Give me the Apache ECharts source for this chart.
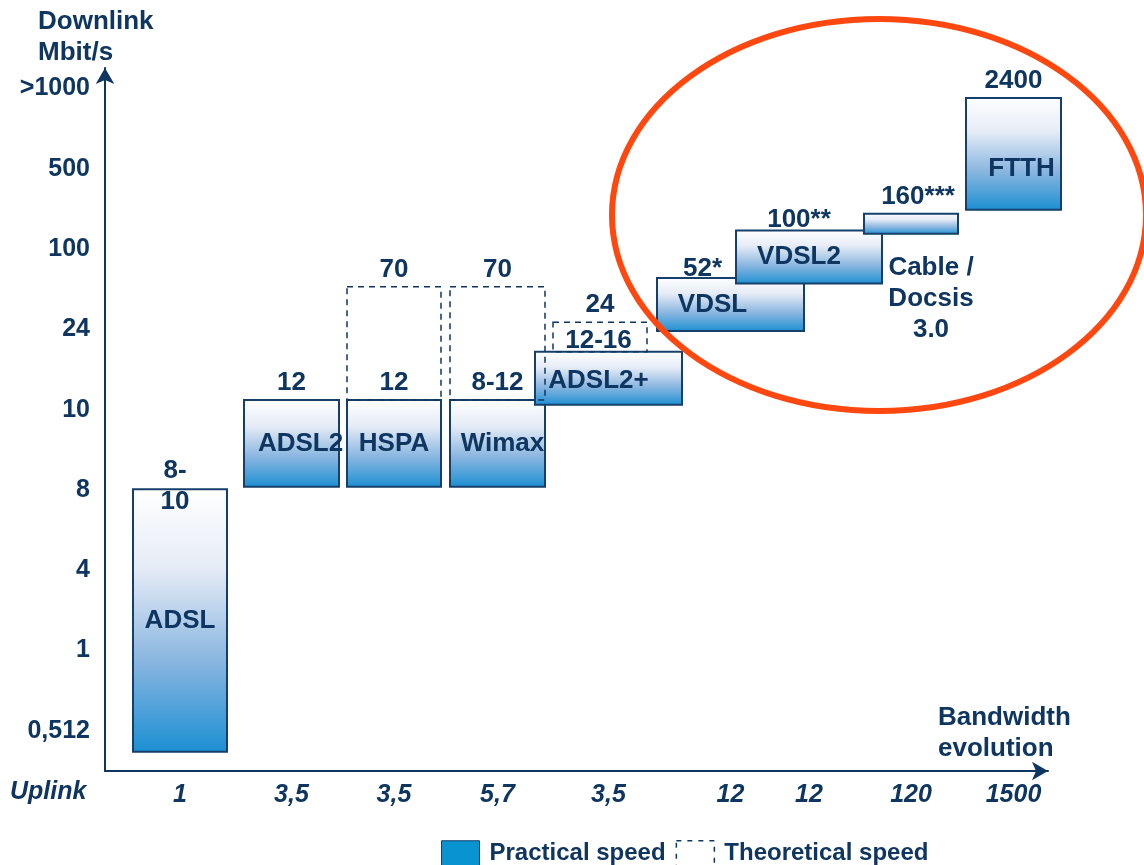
<!DOCTYPE html>
<html>
<head>
<meta charset="utf-8">
<script src="https://cdn.jsdelivr.net/npm/echarts@6/dist/echarts.min.js"></script>
<style>
  html, body { margin: 0; padding: 0; background: #fff; }
  #chart { width: 1144px; height: 865px; }
</style>
</head>
<body>
<div id="chart"></div>
<script>
// downlink levels, drawn as an ordinal scale (index = axis value)
var levelLabels = ['0,512', '1', '4', '8', '10', '24', '100', '500', '>1000'];

// practical speed boxes (x in slots along the evolution axis, y in level index)
var techNames    = ['ADSL', 'ADSL2', 'HSPA', 'Wimax', 'ADSL2+', 'VDSL', 'VDSL2', 'Cable /\nDocsis\n3.0', 'FTTH'];
var downlinkText = ['8-\n10', '12', '12', '8-12', '12-16', '52*', '100**', '160***', '2400'];
var uplinkText   = ['1', '3,5', '3,5', '5,7', '3,5', '12', '12', '120', '1500'];
var boxStart     = [0.28, 1.39, 2.42, 3.45, 4.30, 5.52, 6.31, 7.59, 8.61];
var boxEnd       = [1.22, 2.34, 3.36, 4.40, 5.77, 6.99, 7.77, 8.53, 9.56];
var practicalLow  = [-0.26, 3.04, 3.04, 3.04, 4.06, 4.98, 5.57, 6.19, 6.49];
var practicalHigh = [3.01, 4.12, 4.12, 4.12, 4.72, 5.64, 6.23, 6.44, 7.88];

// theoretical speed (dashed boxes)
var theoText  = ['70', '70', '24'];
var theoStart = [2.42, 3.45, 4.48];
var theoEnd   = [3.36, 4.40, 5.42];
var theoLow   = [4.12, 4.12, 4.72];
var theoHigh  = [5.53, 5.53, 5.09];

var navy = '#0f3660';
var font = 'bold 26px "Liberation Sans", Arial, sans-serif';

// small hand nudges for the text placement
var tweak = {
    'ADSL':   { vdx: -5, vdy: 14 },
    'ADSL2':  { ndx: 9 },
    'Wimax':  { ndx: 5 },
    'ADSL2+': { vdx: -10, vdy: 6, ndx: -10, ndy: 2 },
    'VDSL':   { vdx: -28, vdy: 8, ndx: -18 },
    'VDSL2':  { vdx: -10, vdy: 6, ndx: -10 },
    'Cable /\nDocsis\n3.0': { vdx: 7, ndx: 20, ndy: 75 },
    'FTTH':   { ndx: 8, ndy: 15 }
};

var practicalData = techNames.map(function (n, i) {
    return [boxStart[i], boxEnd[i], practicalLow[i], practicalHigh[i]];
});
var theoData = theoText.map(function (t, i) {
    return [theoStart[i], theoEnd[i], theoLow[i], theoHigh[i]];
});
var boxCenters = boxStart.map(function (s, i) { return (s + boxEnd[i]) / 2; });

function boxGradient() {
    return new echarts.graphic.LinearGradient(0, 0, 0, 1, [
        { offset: 0, color: '#ffffff' },
        { offset: 0.3, color: '#e6ecf6' },
        { offset: 0.65, color: '#8ab6e0' },
        { offset: 1, color: '#1a8fd2' }
    ]);
}

function renderPractical(params, api) {
    var i = params.dataIndex;
    var p0 = api.coord([api.value(0), api.value(3)]);
    var p1 = api.coord([api.value(1), api.value(2)]);
    var t = tweak[techNames[i]] || {};
    var cx = (p0[0] + p1[0]) / 2;
    var cy = (p0[1] + p1[1]) / 2;
    return {
        type: 'group',
        children: [{
            type: 'rect',
            shape: { x: p0[0], y: p0[1], width: p1[0] - p0[0], height: p1[1] - p0[1] },
            style: { fill: boxGradient(), stroke: '#16406b', lineWidth: 2 }
        }, {
            type: 'text',
            style: {
                text: techNames[i], x: cx + (t.ndx || 0), y: cy + (t.ndy || 0),
                align: 'center', verticalAlign: 'middle', font: font, fill: navy, lineHeight: 31
            }
        }, {
            type: 'text',
            style: {
                text: downlinkText[i], x: cx + (t.vdx || 0), y: p0[1] - 17 + (t.vdy || 0),
                align: 'center', verticalAlign: 'middle', font: font, fill: navy, lineHeight: 31
            }
        }]
    };
}

function renderTheo(params, api) {
    var i = params.dataIndex;
    var p0 = api.coord([api.value(0), api.value(3)]);
    var p1 = api.coord([api.value(1), api.value(2)]);
    return {
        type: 'group',
        children: [{
            type: 'rect',
            shape: { x: p0[0], y: p0[1], width: p1[0] - p0[0], height: p1[1] - p0[1] },
            style: { fill: null, stroke: navy, lineWidth: 1.5, lineDash: [6, 5] }
        }, {
            type: 'text',
            style: {
                text: theoText[i], x: (p0[0] + p1[0]) / 2, y: p0[1] - 17,
                align: 'center', verticalAlign: 'middle', font: font, fill: navy
            }
        }]
    };
}

var myChart = echarts.init(document.getElementById('chart'));
var option = {
    animation: false,
    grid: { left: 105, right: 96, top: 68, bottom: 94 },
    xAxis: {
        type: 'value',
        min: 0,
        max: 9.43,
        splitLine: { show: false },
        axisTick: { show: false },
        axisLine: {
            show: true,
            onZero: false,
            symbol: ['none', 'arrow'],
            symbolSize: [14, 16],
            lineStyle: { color: navy, width: 2 }
        },
        axisLabel: {
            customValues: boxCenters,
            margin: 12,
            color: navy,
            fontStyle: 'italic',
            fontWeight: 'bold',
            fontSize: 25,
            fontFamily: 'Liberation Sans',
            formatter: function (v) {
                return uplinkText[boxCenters.indexOf(v)];
            }
        }
    },
    yAxis: {
        type: 'value',
        min: -0.5,
        max: 8.255,
        splitLine: { show: false },
        axisTick: { show: false },
        axisLine: {
            show: true,
            onZero: false,
            symbol: ['none', 'arrow'],
            symbolSize: [14, 16],
            lineStyle: { color: navy, width: 2 }
        },
        axisLabel: {
            customValues: [0, 1, 2, 3, 4, 5, 6, 7, 8],
            margin: 15,
            color: navy,
            fontWeight: 'bold',
            fontSize: 25,
            fontFamily: 'Liberation Sans',
            formatter: function (v) { return levelLabels[v]; }
        }
    },
    legend: {
        left: 436,
        top: 835,
        itemWidth: 38,
        itemHeight: 26,
        itemGap: 10,
        selectedMode: false,
        textStyle: { color: navy, fontWeight: 'bold', fontSize: 24, fontFamily: 'Liberation Sans', padding: [0, 0, 0, 5] },
        data: [
            { name: 'Practical speed', icon: 'rect', itemStyle: { color: '#0a93d1', borderColor: '#16406b', borderWidth: 1 } },
            { name: 'Theoretical speed', icon: 'rect', itemStyle: { color: '#fff', borderColor: navy, borderWidth: 1.5, borderType: [5, 6] } }
        ]
    },
    series: [{
        name: 'Practical speed',
        type: 'custom',
        renderItem: renderPractical,
        clip: false,
        encode: { x: [0, 1], y: [2, 3] },
        data: practicalData,
        z: 2
    }, {
        name: 'Theoretical speed',
        type: 'custom',
        renderItem: renderTheo,
        clip: false,
        encode: { x: [0, 1], y: [2, 3] },
        data: theoData,
        z: 3
    }],
    graphic: [{
        type: 'text',
        left: 38,
        top: 6,
        style: { text: 'Downlink\nMbit/s', font: 'bold 26px "Liberation Sans", Arial, sans-serif', fill: navy, lineHeight: 31 }
    }, {
        type: 'text',
        left: 938,
        top: 702,
        style: { text: 'Bandwidth\nevolution', font: 'bold 26px "Liberation Sans", Arial, sans-serif', fill: navy, lineHeight: 31 }
    }, {
        type: 'text',
        left: 10,
        top: 780,
        style: { text: 'Uplink', font: 'italic bold 25px "Liberation Sans", Arial, sans-serif', fill: navy }
    }, {
        type: 'ellipse',
        shape: { cx: 879, cy: 215, rx: 267, ry: 196 },
        style: { fill: null, stroke: '#fe4810', lineWidth: 6 },
        z: 100
    }]
};
myChart.setOption(option);
</script>
</body>
</html>
